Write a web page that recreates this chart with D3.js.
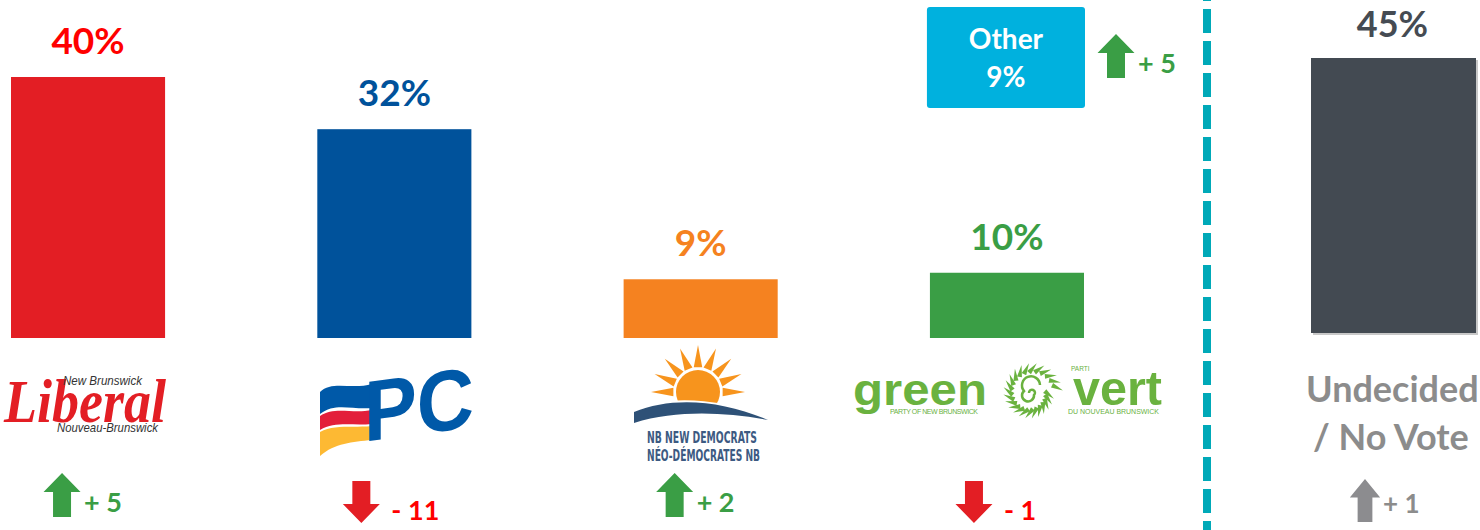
<!DOCTYPE html>
<html>
<head>
<meta charset='utf-8'>
<title>NB vote intention</title>
<script src='https://cdn.jsdelivr.net/npm/d3@7/dist/d3.min.js'></script>
<style>
  body { margin: 0; background: #fff; }
</style>
</head>
<body>
<svg width='1480' height='530' font-family='Lato, Open Sans, sans-serif' font-weight='bold'></svg>
<script>
// data
const parties = ['Liberal', 'PC', 'NDP', 'Green']
const values = [40, 32, 9, 10]
const changes = [5, -11, 2, -1]
const barColors = ['#E31E24', '#00529B', '#F58220', '#3A9E45']
const labelColors = ['#FF0000', '#00529B', '#F58220', '#3A9E45']
const otherValue = 9
const otherChange = 5
const undecidedValue = 45
const undecidedChange = 1

const svg = d3.select('svg')

const x = d3.scaleBand().domain(parties).range([11, 1084]).paddingInner(0.497).paddingOuter(0)
const y = d3.scaleLinear().domain([0, 40]).range([338, 77])
const yU = d3.scaleLinear().domain([0, 45]).range([333, 58])

// arrows
const upArrow = 'M0,0 L18.5,19 L9,19 L9,44 L-9,44 L-9,19 L-18.5,19 Z'
const downArrow = 'M0,42 L18.5,23 L9,23 L9,0 L-9,0 L-9,23 L-18.5,23 Z'
function change(g, cx, top, v, col, txtCol, size, opt = {}) {
  const sx = opt.sx || 1
  g.append('path').attr('d', v >= 0 ? upArrow : downArrow)
    .attr('transform', `translate(${cx},${top}) scale(${sx},${opt.sy || 1})`).attr('fill', col)
  g.append('text').attr('x', cx + (v >= 0 ? 22 * sx : 30)).attr('y', top + (opt.dy || 39))
    .attr('font-size', size).attr('fill', txtCol)
    .text((v >= 0 ? '+ ' : '- ') + Math.abs(v))
}

// bars
svg.selectAll('rect.bar').data(parties).enter().append('rect')
  .attr('class', 'bar')
  .attr('x', d => x(d)).attr('width', x.bandwidth())
  .attr('y', (d, i) => y(values[i])).attr('height', (d, i) => y(0) - y(values[i]))
  .attr('fill', (d, i) => barColors[i])

svg.selectAll('text.val').data(parties).enter().append('text')
  .attr('class', 'val')
  .attr('x', d => x(d) + x.bandwidth() / 2).attr('y', (d, i) => y(values[i]) - 23)
  .attr('text-anchor', 'middle').attr('font-size', 37)
  .attr('fill', (d, i) => labelColors[i])
  .text((d, i) => values[i] + '%')

parties.forEach((p, i) => {
  const cx = x(p) + x.bandwidth() / 2
  const v = changes[i]
  const col = v >= 0 ? '#3A9E45' : '#E31E24'
  const tcol = v >= 0 ? '#3A9E45' : '#FF0000'
  change(svg, cx + (v >= 0 ? -26 : -33), v >= 0 ? 473 : 481, v, col, tcol, 27)
})

// ---- logos ----
// Liberal
const lib = svg.append('g')
lib.append('text').attr('x', 4).attr('y', 422).attr('font-size', 62)
  .attr('font-family', 'Liberation Serif').attr('font-style', 'italic')
  .attr('fill', '#E31E24').attr('textLength', 162).attr('lengthAdjust', 'spacingAndGlyphs')
  .text('Liberal')
lib.append('text').attr('x', 63).attr('y', 385).attr('font-size', 13)
  .attr('font-family', 'Liberation Sans').attr('font-weight', 'normal').attr('font-style', 'italic')
  .attr('fill', '#333').attr('textLength', 79).attr('lengthAdjust', 'spacingAndGlyphs').text('New Brunswick')
lib.append('text').attr('x', 57).attr('y', 432).attr('font-size', 13)
  .attr('font-family', 'Liberation Sans').attr('font-weight', 'normal').attr('font-style', 'italic')
  .attr('fill', '#333').attr('textLength', 101).attr('lengthAdjust', 'spacingAndGlyphs').text('Nouveau-Brunswick')

// PC
const pc = svg.append('g')
pc.append('path').attr('fill', '#0059A8')
  .attr('d', 'M320,392 C332,380 352,390 372,384 L372,408 C352,410 335,402 320,414 Z')
pc.append('path').attr('fill', '#E31E3A')
  .attr('d', 'M320,416 C334,406 352,414 372,410 L372,424 C352,426 335,421 320,430 Z')
pc.append('path').attr('fill', '#FDB933')
  .attr('d', 'M320,432 C334,424 352,428 372,426 L372,440 C352,442 335,443 320,456 Z')
pc.append('text').attr('x', 364).attr('y', 438).attr('font-size', 86)
  .attr('font-family', 'Liberation Sans').attr('fill', '#0059A8')
  .attr('textLength', 110).attr('lengthAdjust', 'spacingAndGlyphs')
  .attr('transform', 'skewY(-8) translate(0,55)')
  .text('PC')

// NDP
const nd = svg.append('g')
const sun = { x: 698, y: 392 }
d3.range(9).forEach(k => {
  const a = Math.PI + (k / 8) * Math.PI
  const w = 0.17
  const r0 = 25, r1 = 47
  nd.append('path').attr('fill', '#F7941D')
    .attr('d', `M${sun.x + r0 * Math.cos(a - w)},${sun.y + r0 * Math.sin(a - w)}
      L${sun.x + r1 * Math.cos(a)},${sun.y + r1 * Math.sin(a)}
      L${sun.x + r0 * Math.cos(a + w)},${sun.y + r0 * Math.sin(a + w)} Z`)
})
nd.append('circle').attr('cx', sun.x).attr('cy', sun.y).attr('r', 22).attr('fill', '#F7941D')
nd.append('path').attr('fill', '#fff')
  .attr('d', 'M630,410 C670,394 720,398 770,418 L770,440 L630,440 Z')
nd.append('path').attr('fill', '#2E5177')
  .attr('d', 'M634,412 C672,396 722,400 768,420 C724,412 676,410 634,423 Z')
nd.append('text').attr('x', 647).attr('y', 443).attr('font-size', 15)
  .attr('font-family', 'DejaVu Sans Condensed').attr('fill', '#3C5A82')
  .attr('textLength', 110).attr('lengthAdjust', 'spacingAndGlyphs').text('NB NEW DEMOCRATS')
nd.append('text').attr('x', 647).attr('y', 461).attr('font-size', 15)
  .attr('font-family', 'DejaVu Sans Condensed').attr('fill', '#3C5A82')
  .attr('textLength', 113).attr('lengthAdjust', 'spacingAndGlyphs').text('NÉO-DÉMOCRATES NB')

// Green
const gr = svg.append('g')
const gcol = '#6AB23F'
gr.append('text').attr('x', 853).attr('y', 405).attr('font-size', 44)
  .attr('font-family', 'Liberation Sans').attr('fill', gcol)
  .attr('textLength', 134).attr('lengthAdjust', 'spacingAndGlyphs').text('green')
gr.append('text').attr('x', 890).attr('y', 414).attr('font-size', 7)
  .attr('font-family', 'Liberation Sans').attr('font-weight', 'normal').attr('fill', gcol)
  .attr('textLength', 88).text('PARTY OF NEW BRUNSWICK')
const sp = { x: 1031, y: 393 }
d3.range(24).forEach(k => {
  const a = (k / 24) * 2 * Math.PI
  const r = 16 + 9 * (k / 24)
  const px = sp.x + r * Math.cos(a), py = sp.y + r * Math.sin(a)
  gr.append('path').attr('fill', gcol)
    .attr('d', `M${px - 3},${py - 2.5} L${px + 9},${py} L${px - 3},${py + 2.5} Z`)
    .attr('transform', `rotate(${a * 180 / Math.PI + 40},${px},${py})`)
})
gr.append('path').attr('fill', 'none').attr('stroke', gcol).attr('stroke-width', 2.5)
  .attr('d', `M${sp.x},${sp.y} m-2,0 a3,3 0 1,1 5,2 a6,6 0 1,1 -10,-4 a9,9 0 1,1 16,-6`)
gr.append('text').attr('x', 1073).attr('y', 405).attr('font-size', 48)
  .attr('font-family', 'Liberation Sans').attr('fill', gcol)
  .attr('textLength', 89).attr('lengthAdjust', 'spacingAndGlyphs').text('vert')
gr.append('text').attr('x', 1071).attr('y', 371).attr('font-size', 6.5)
  .attr('font-family', 'Liberation Sans').attr('font-weight', 'normal').attr('fill', gcol).text('PARTI')
gr.append('text').attr('x', 1068).attr('y', 414).attr('font-size', 7)
  .attr('font-family', 'Liberation Sans').attr('font-weight', 'normal').attr('fill', gcol)
  .attr('textLength', 91).text('DU NOUVEAU BRUNSWICK')

// Other box
const ox = x('Green')
svg.append('rect').attr('x', ox - 3).attr('y', 7).attr('width', x.bandwidth() + 4).attr('height', 101)
  .attr('rx', 3).attr('fill', '#00B1DE')
svg.append('text').attr('x', ox + x.bandwidth() / 2 - 1).attr('y', 49).attr('text-anchor', 'middle')
  .attr('font-size', 28).attr('fill', '#fff').text('Other')
svg.append('text').attr('x', ox + x.bandwidth() / 2 - 1).attr('y', 87).attr('text-anchor', 'middle')
  .attr('font-size', 28).attr('fill', '#fff').text(otherValue + '%')
change(svg, 1116, 34, otherChange, '#3A9E45', '#3A9E45', 27)

// divider
svg.append('line').attr('x1', 1207).attr('x2', 1207).attr('y1', 0).attr('y2', 530)
  .attr('stroke', '#00A9B8').attr('stroke-width', 8)
  .attr('stroke-dasharray', '24 8').attr('stroke-dashoffset', 23)

// undecided
const ux = 1311, uw = 165
svg.append('rect').attr('x', ux + 2).attr('width', uw)
  .attr('y', yU(undecidedValue) + 2).attr('height', yU(0) - yU(undecidedValue))
  .attr('fill', '#c8c8c8')
svg.append('rect').attr('x', ux).attr('width', uw)
  .attr('y', yU(undecidedValue)).attr('height', yU(0) - yU(undecidedValue))
  .attr('fill', '#434A52')
svg.append('text').attr('x', ux + uw / 2 - 1).attr('y', yU(undecidedValue) - 21)
  .attr('text-anchor', 'middle').attr('font-size', 36).attr('fill', '#454B53')
  .text(undecidedValue + '%')
svg.append('text').attr('x', 1306).attr('y', 402)
  .attr('font-size', 36).attr('fill', '#8C8C8C').text('Undecided')
svg.append('text').attr('x', 1313).attr('y', 450)
  .attr('font-size', 36).attr('fill', '#8C8C8C').text('/ No Vote')
change(svg, 1365, 479, undecidedChange, '#8C8C8F', '#8C8C8C', 26, { sx: 0.82, sy: 0.98, dy: 34 })
</script>
</body>
</html>
